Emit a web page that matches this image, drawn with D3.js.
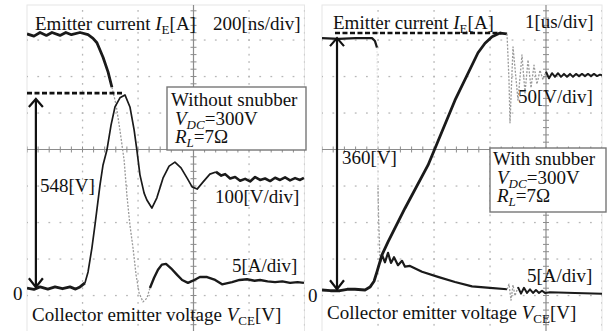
<!DOCTYPE html>
<html><head><meta charset="utf-8">
<script src="https://cdn.jsdelivr.net/npm/d3@7"></script>
<style>
body{margin:0;background:#fff;}
svg text{font-family:"Liberation Serif","Times New Roman",serif;font-size:19px;fill:#111;}
</style></head><body><svg id="c" width="611" height="331"></svg>
<script>
// ---------- DATA (time in ns, voltage in V, current in A) ----------
// Left panel: without snubber (200 ns/div, 100 V/div, 5 A/div)
const leftVceBase = [[0,0],[25,-4],[47,3],[75,-3],[101,3],[128,-2],[155,3],[175,-3],[191,3],[209,14]];
const leftVceMain = [[209,14],[220,44],[234,110],[245,173],[263,282],[274,337],[288,378],[303,447],[317,496],[335,521],[353,529],[371,496],[386,433],[396,378],[407,310],[422,260],[432,241],[450,219],[468,247],[490,301],[512,334],[533,345],[555,329],[577,301],[595,277],[613,271],[634,290],[659,312],[681,318]];
const leftVceTail = [[681,318],[700,308],[714,312],[732,300],[750,304],[768,294],[786,299],[804,292],[822,304],[840,296],[858,300],[876,293],[894,302],[912,296],[930,303],[948,295],[966,301],[984,296],[998,302]];
const leftIeOn = [[0,34.8],[25,34.5],[47,35],[70,34.6],[90,35],[119,34.6],[140,35],[160,34.7],[191,35],[220,34.7],[238,34.2],[252,33.6],[274,31.6],[292,29.6],[306,27.5]];
const leftIeFall = [[306,27.5],[321,25.1],[335,21.6],[350,17.5],[360,12.7],[371,8.6],[382,5.5],[393,1.8],[404,-0.7],[418,-1.9],[432,-1.4],[443,0]];
const leftIeTail = [[443,0],[458,1.4],[472,2.5],[486,3.2],[501,3.3],[519,2.7],[541,1.8],[559,1.1],[580,0.7],[598,1.0],[623,1.5],[649,1.5],[678,1.1],[703,0.5],[739,0.8],[766,1.1],[793,1.2],[820,1.0],[840,1.1],[867,0.9],[894,0.8],[920,0.9],[948,0.7],[975,0.8],[998,0.7]];
const leftPeak = 534, leftPeakLabel = "548[V]";

// Right panel: with snubber (1 us/div, 50 V/div, 5 A/div)
const rightVce = [[0,0],[150,-1],[321,-1],[450,1],[589,1],[768,0],[857,4],[929,12],[982,25],[1071,48],[1179,66],[1482,112],[1893,171],[2375,260],[2786,325],[2911,338],[3036,347],[3179,352],[3304,351]];
const rightVceRing = [[3304,351],[3339,288],[3357,229],[3411,333],[3500,260],[3571,322],[3625,270],[3679,315],[3732,277],[3786,308],[3839,282],[3893,301],[3946,288],[4000,299]];
const rightVceTail = [[4000,299],[4054,290],[4107,297],[4161,292],[4214,297],[4268,292],[4321,296],[4375,292],[4429,296],[4482,292],[4536,296],[4589,293],[4643,296],[4696,293],[4750,296],[4804,293],[4857,296],[4911,293],[4964,295],[5000,294]];
const rightIeOn = [[0,34.5],[300,34.4],[600,34.5],[893,34.5],[946,34.1],[982,33.2]];
const rightIeFallHidden = [[982,33.2],[991,23.3],[1000,14]];
const rightIeFall = [[1000,14],[1009,10.3],[1027,6.2],[1036,3.8]];
const rightIeTail = [[1036,3.8],[1071,4.8],[1125,3.8],[1179,5.1],[1232,3.7],[1286,4.5],[1357,3.4],[1429,4.0],[1482,3.2],[1571,3.3],[1786,2.5],[2071,1.8],[2375,1.1],[2679,0.5],[3000,0.3],[3304,0.1]];
const rightIeRing = [[3304,0.1],[3339,0.8],[3375,-1.4],[3411,0.7],[3446,-0.8],[3500,0.4]];
const rightIeEnd = [[3500,0.4],[3554,-0.5],[3607,0.3],[3661,-0.4],[3714,0.1],[3768,-0.4],[3821,0],[3875,-0.4],[3929,-0.1],[3982,-0.4],[4071,-0.3],[4518,-0.4],[5000,-0.5]];
const rightPeak = 352, rightPeakLabel = "360[V]";

// ---------- DRAW ----------
const svg = d3.select("#c");
const DIVH = 36.5, CY = 149.5;
const yDiv = d3.scaleLinear().domain([-4,4]).range([CY+4*DIVH, CY-4*DIVH]);

function panel(o){
  const g = svg.append("g");
  const x = d3.scaleLinear().domain([0, o.tSpan]).range([o.x0, o.x1]);
  const yV = d3.scaleLinear().domain([0, o.vPerDiv]).range([yDiv(o.off), yDiv(o.off+1)]);
  const yI = d3.scaleLinear().domain([0, o.iPerDiv]).range([yDiv(o.off), yDiv(o.off+1)]);
  const top = 5, bot = 331;
  const clipId = "clip"+o.x0;
  svg.append("clipPath").attr("id",clipId).append("rect").attr("x",o.x0).attr("y",top).attr("width",o.x1-o.x0).attr("height",bot-top);
  g.append("rect").attr("x",o.x0).attr("y",top).attr("width",o.x1-o.x0).attr("height",bot-top+2)
    .attr("fill","none").attr("stroke","#e6e6e6").attr("stroke-width",1);
  const gg = g.append("g").attr("clip-path","url(#"+clipId+")");
  const nx = Math.round(o.tSpan/o.tPerDiv);
  const hDivs = d3.range(-5,5).filter(d=>d!==0);
  const xsub = d3.range(0, nx*5+1).map(k=>x(k*o.tPerDiv/5));
  hDivs.forEach(d=>{
    gg.selectAll(null).data(xsub).join("rect").attr("x",v=>v-0.8).attr("y",yDiv(d)-0.6).attr("width",1.8).attr("height",1.3).attr("fill","#b8b8b8");
  });
  const ysub = d3.range(-25,26).map(k=>yDiv(k/5));
  d3.range(1,nx+1).filter(k=>k!==o.centerDiv).forEach(k=>{
    gg.selectAll(null).data(ysub).join("rect").attr("x",x(k*o.tPerDiv)-0.6).attr("y",v=>v-0.8).attr("width",1.3).attr("height",1.8).attr("fill","#b8b8b8");
  });
  const cx = x(o.centerDiv*o.tPerDiv);
  gg.append("line").attr("x1",o.x0).attr("x2",o.x1).attr("y1",yDiv(0)).attr("y2",yDiv(0)).attr("stroke","#8c8c8c").attr("stroke-width",1.2);
  gg.append("line").attr("x1",cx).attr("x2",cx).attr("y1",top).attr("y2",bot).attr("stroke","#8c8c8c").attr("stroke-width",1.2);
  gg.selectAll(null).data(xsub).join("line").attr("x1",v=>v).attr("x2",v=>v).attr("y1",yDiv(0)-3).attr("y2",yDiv(0)+3).attr("stroke","#8c8c8c");
  gg.selectAll(null).data(ysub).join("line").attr("y1",v=>v).attr("y2",v=>v).attr("x1",cx-3).attr("x2",cx+3).attr("stroke","#8c8c8c");

  const lineV = d3.line().x(d=>x(d[0])).y(d=>yV(d[1]));
  const lineI = d3.line().x(d=>x(d[0])).y(d=>yI(d[1]));
  o.traces.forEach(t=>{
    gg.append("path").datum(t.data).attr("d", t.kind==="v"?lineV(t.data):lineI(t.data))
      .attr("fill","none").attr("stroke",t.c || (t.faint?"#9a9a9a":"#1a1a1a"))
      .attr("stroke-width",t.w).attr("stroke-dasharray",t.faint?"2,1.5":null)
      .attr("stroke-linejoin","round");
  });
  g.append("line").attr("x1",x(o.dashFrom)).attr("x2",x(o.dashTo)).attr("y1",yV(o.peak)).attr("y2",yV(o.peak))
    .attr("stroke","#111").attr("stroke-width",2.6).attr("stroke-dasharray","5,2.5");
  const ax = x(o.arrowT), ya = yV(o.arrowTop), yb = yV(o.arrowBot);
  g.append("line").attr("x1",ax).attr("x2",ax).attr("y1",ya).attr("y2",yb).attr("stroke","#111").attr("stroke-width",2.2);
  g.append("path").attr("d",`M${ax-7},${ya+8}L${ax},${ya}L${ax+7},${ya+8}M${ax-7},${yb-9}L${ax},${yb}L${ax+7},${yb-9}`)
    .attr("fill","none").attr("stroke","#111").attr("stroke-width",2.2);
  return g;
}

panel({x0:27,x1:304.5,tSpan:1000,tPerDiv:200,centerDiv:3,vPerDiv:100,iPerDiv:5,off:(CY-288)/DIVH,
  traces:[{kind:"i",data:leftIeOn,w:2.8},{kind:"i",data:leftIeFall,w:1.3,faint:true},{kind:"i",data:leftIeTail,w:2.4},
          {kind:"v",data:leftVceBase,w:2.8},{kind:"v",data:leftVceMain,w:1.7},{kind:"v",data:leftVceTail,w:2.6}],
  peak:leftPeak,dashFrom:0,dashTo:350,arrowT:32,arrowTop:518,arrowBot:2});
panel({x0:322,x1:602,tSpan:5000,tPerDiv:1000,centerDiv:4,vPerDiv:50,iPerDiv:5,off:(CY-290)/DIVH,
  traces:[{kind:"i",data:rightIeOn,w:2.2},{kind:"i",data:rightIeFallHidden,w:1,faint:true,c:"#e2e2e2"},{kind:"i",data:rightIeFall,w:1.3,faint:true},{kind:"i",data:rightIeTail,w:2.2},
          {kind:"i",data:rightIeRing,w:1.3,faint:true},{kind:"i",data:rightIeEnd,w:2},
          {kind:"v",data:rightVce,w:2.8},{kind:"v",data:rightVceRing,w:1.3,faint:true},{kind:"v",data:rightVceTail,w:2}],
  peak:rightPeak,dashFrom:232,dashTo:3200,arrowT:268,arrowTop:345,arrowBot:1});

// ---------- TEXT ----------
function rich(g, x, y, parts){
  const t = g.append("text").attr("x",x).attr("y",y);
  parts.forEach(p=>{
    const s = t.append("tspan").text(p.t);
    if(p.i) s.attr("font-style","italic");
    if(p.sub) s.attr("font-size","13px").attr("dy",4);
    if(p.up) s.attr("dy",-4);
  });
  return t;
}
const ieParts = [{t:"Emitter current "},{t:"I",i:1},{t:"E",sub:1},{t:"[A]",up:1}];
const vceParts = [{t:"Collector emitter voltage "},{t:"V",i:1},{t:"CE",sub:1},{t:"[V]",up:1}];
const vdcParts = [{t:"V",i:1},{t:"DC",sub:1,i:1},{t:"=300V",up:1}];
const rlParts = [{t:"R",i:1},{t:"L",sub:1,i:1},{t:"=7Ω",up:1}];

rich(svg,35,30,ieParts);
rich(svg,213,30,[{t:"200[ns/div]"}]);
svg.append("rect").attr("x",167).attr("y",87).attr("width",139).attr("height",63).attr("fill","#fff").attr("stroke","#777").attr("stroke-width",1.4);
rich(svg,171,106,[{t:"Without snubber"}]);
rich(svg,175,125,vdcParts);
rich(svg,175,143,rlParts);
rich(svg,40,192,[{t:leftPeakLabel}]);
rich(svg,215,203,[{t:"100[V/div]"}]);
rich(svg,232,272,[{t:"5[A/div]"}]);
rich(svg,13,300,[{t:"0"}]);
rich(svg,32,321,vceParts);
rich(svg,333,29,ieParts);
rich(svg,525,28,[{t:"1[us/div]"}]);
rich(svg,518,103,[{t:"50[V/div]"}]);
rich(svg,342,164,[{t:rightPeakLabel}]);
svg.append("rect").attr("x",490).attr("y",148).attr("width",116).attr("height",64).attr("fill","#fff").attr("stroke","#777").attr("stroke-width",1.4);
rich(svg,493,165,[{t:"With snubber"}]);
rich(svg,497,184,vdcParts);
rich(svg,497,202,rlParts);
rich(svg,527,282,[{t:"5[A/div]"}]);
rich(svg,308,302,[{t:"0"}]);
rich(svg,327,319,vceParts);
</script></body></html>
